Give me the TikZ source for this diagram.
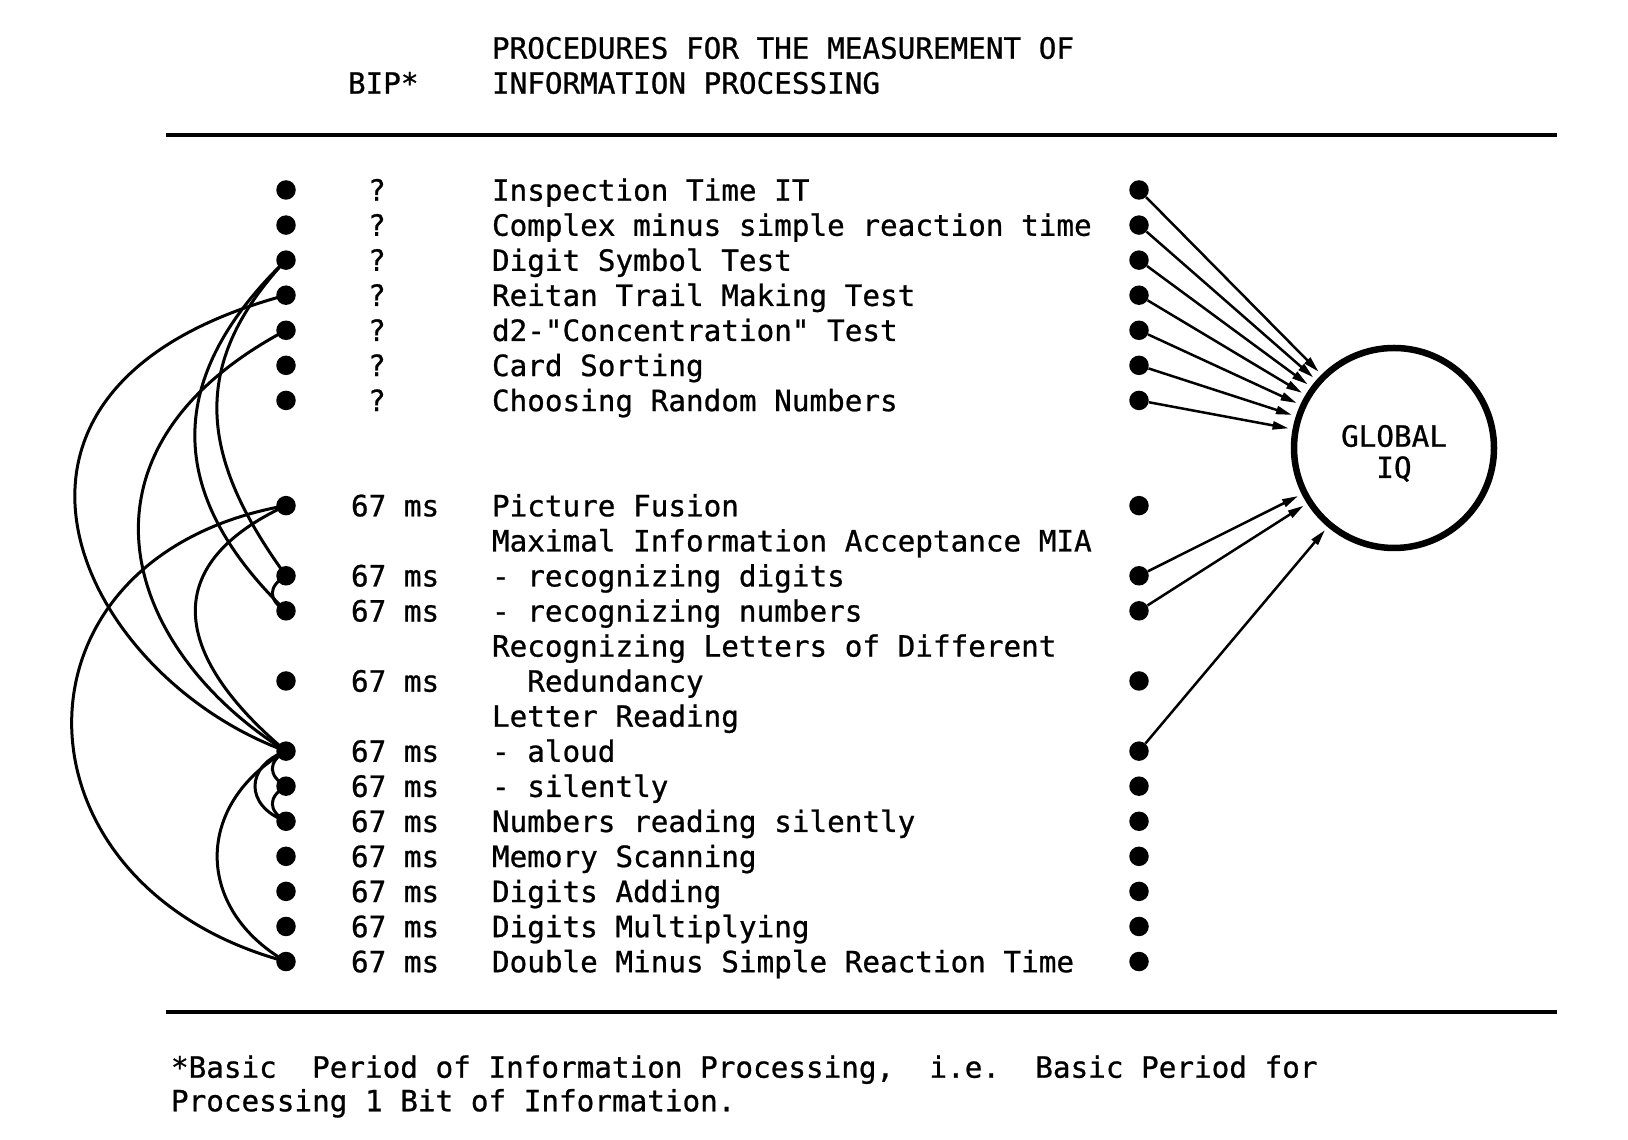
\documentclass[tikz,border=0pt]{standalone}
\usepackage{fontspec}
\newfontfamily\dvm[FakeBold=0.8]{DejaVu Sans Mono}
\usetikzlibrary{arrows.meta}
\frenchspacing
\newcommand\RY[1]{950-35.07*#1}
\begin{document}
\begin{tikzpicture}[x=1pt,y=1pt,
  tx/.style={inner sep=0pt, outer sep=0pt, anchor=base west, font=\dvm\fontsize{29.3}{35}\selectfont},
  qm/.style={inner sep=0pt, outer sep=0pt, anchor=base, font=\dvm\fontsize{29.3}{35}\selectfont},
  dotn/.style={circle, fill=black, inner sep=0pt, minimum size=19.5pt},
  link/.style={line width=3pt},
  arr/.style={line width=2.5pt, -{Triangle[length=16pt,width=8pt]}, shorten >=4pt},
  rulel/.style={line width=3.5pt},
]
\fill[white] (0,0) rectangle (1628,1140);
\useasboundingbox (0,0) rectangle (1628,1140);

% header
\node[tx] (h1) at (492,1081.3) {PROCEDURES FOR THE MEASUREMENT OF};
\node[tx] (h2) at (492,1046.3) {INFORMATION PROCESSING};
\node[tx] (bip) at (348,1046.3) {BIP*};
\draw[rulel] (166,1005) -- (1557,1005);
\draw[rulel] (166,128) -- (1557,128);

% dots
\foreach \k in {0,1,2,3,4,5,6,9,11,12,14,16,17,18,19,20,21,22}{
  \node[dotn] (l\k) at (286,{\RY{\k}}) {};
  \node[dotn] (r\k) at (1139,{\RY{\k}}) {};
}

% question marks
\foreach \k in {0,...,6}{
  \node[qm] (q\k) at (377,{\RY{\k}-10.7}) {?};
}
% 67 ms
\foreach \k in {9,11,12,14,16,17,18,19,20,21,22}{
  \node[tx] (m\k) at (351,{\RY{\k}-10.7}) {67 ms};
}

% item texts
\node[tx] (t0) at (492,{\RY{0}-10.7}) {Inspection Time IT};
\node[tx] (t1) at (492,{\RY{1}-10.7}) {Complex minus simple reaction time};
\node[tx] (t2) at (492,{\RY{2}-10.7}) {Digit Symbol Test};
\node[tx] (t3) at (492,{\RY{3}-10.7}) {Reitan Trail Making Test};
\node[tx] (t4) at (492,{\RY{4}-10.7}) {d2-"Concentration" Test};
\node[tx] (t5) at (492,{\RY{5}-10.7}) {Card Sorting};
\node[tx] (t6) at (492,{\RY{6}-10.7}) {Choosing Random Numbers};
\node[tx] (t9) at (492,{\RY{9}-10.7}) {Picture Fusion};
\node[tx] (t10) at (492,{\RY{10}-10.7}) {Maximal Information Acceptance MIA};
\node[tx] (t11) at (492,{\RY{11}-10.7}) {- recognizing digits};
\node[tx] (t12) at (492,{\RY{12}-10.7}) {- recognizing numbers};
\node[tx] (t13) at (492,{\RY{13}-10.7}) {Recognizing Letters of Different};
\node[tx] (t14) at (492,{\RY{14}-10.7}) {\ \ Redundancy};
\node[tx] (t15) at (492,{\RY{15}-10.7}) {Letter Reading};
\node[tx] (t16) at (492,{\RY{16}-10.7}) {- aloud};
\node[tx] (t17) at (492,{\RY{17}-10.7}) {- silently};
\node[tx] (t18) at (492,{\RY{18}-10.7}) {Numbers reading silently};
\node[tx] (t19) at (492,{\RY{19}-10.7}) {Memory Scanning};
\node[tx] (t20) at (492,{\RY{20}-10.7}) {Digits Adding};
\node[tx] (t21) at (492,{\RY{21}-10.7}) {Digits Multiplying};
\node[tx] (t22) at (492,{\RY{22}-10.7}) {Double Minus Simple Reaction Time};

% global IQ
\node[circle, draw, line width=6.5pt, minimum size=200pt, inner sep=0pt] (iq) at (1394,692) {};
\node[qm] (gl) at (1394,693.3) {GLOBAL};
\node[qm] (iqt) at (1394,662) {IQ};

% arrows
\foreach \k in {0,1,2,3,4,5,6,11,12,16}{
  \draw[arr] (r\k) -- (iq);
}

% arcs on the left
\draw[link] (l3.center) .. controls +(195:360) and +(160:220) .. (l16.center);
\draw[link] (l4.center) .. controls +(208:260) and +(148:190) .. (l16.center);
\draw[link] (l2.center) .. controls +(224:169) and +(136:169) .. (l12.center);
\draw[link] (l2.center) .. controls +(227:145) and +(126:145) .. (l11.center);
\draw[link] (l9.center) .. controls +(190:293) and +(165:293) .. (l22.center);
\draw[link] (l9.center) .. controls +(205:155) and +(140:130) .. (l16.center);
\draw[link] (l16.center) .. controls +(210:106) and +(150:106) .. (l22.center);
\draw[link] (l11.center) .. controls +(210:21) and +(150:21) .. (l12.center);
\draw[link] (l16.center) .. controls +(210:21) and +(150:21) .. (l17.center);
\draw[link] (l17.center) .. controls +(210:21) and +(150:21) .. (l18.center);
\draw[link] (l16.center) .. controls +(200:44) and +(160:44) .. (l18.center);

% footnote
\node[tx] (f1) at (171,62.3) {*Basic\ \ Period of Information Processing,\ \ i.e.\ \ Basic Period for};
\node[tx] (f2) at (171,28.7) {Processing 1 Bit of Information.};
\end{tikzpicture}
\end{document}
